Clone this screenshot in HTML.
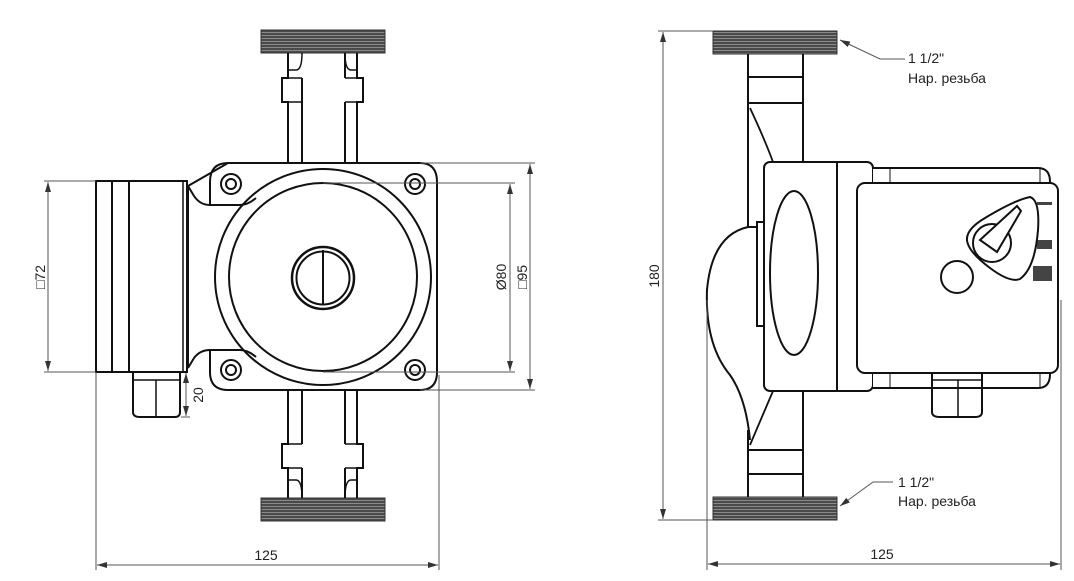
<!DOCTYPE html>
<html><head><meta charset="utf-8"><style>
html,body{margin:0;padding:0;background:#fff;}
svg{display:block;}
text{font-family:"Liberation Sans",sans-serif;fill:#222;}
</style></head><body>
<svg width="1074" height="581" viewBox="0 0 1074 581" xmlns="http://www.w3.org/2000/svg">
<defs>
<pattern id="thr" width="4" height="3" patternUnits="userSpaceOnUse">
<rect width="4" height="3" fill="#4a4a4a"/><rect y="2" width="4" height="1" fill="#8a8a8a"/>
</pattern>
<marker id="ar" markerWidth="10" markerHeight="6" refX="10" refY="3" orient="auto-start-reverse" markerUnits="userSpaceOnUse">
<path d="M0,0 L10,3 L0,6 z" fill="#333"/></marker>
</defs>
<g fill="none" stroke="#111" stroke-width="2">
<!-- LEFT VIEW -->
<rect x="261" y="30" width="124" height="23" fill="url(#thr)" stroke="#333" stroke-width="1"/>
<rect x="261" y="498" width="124" height="23" fill="url(#thr)" stroke="#333" stroke-width="1"/>
<path d="M288,53 V78 H282 V102 H288 V163"/>
<path d="M302,53 Q302,70 296,70 H288" stroke-width="1.5"/>
<path d="M302,78 V102 M302,102 V163"/>
<path d="M345,53 V78 M345,102 V163"/>
<path d="M357,53 V78 H363 V102 H357 V163"/>
<path d="M345,53 Q345,70 351,70 H357" stroke-width="1.5"/>
<path d="M282,78 H302 M282,102 H302 M345,78 H363 M345,102 H363" stroke-width="1.5"/>
<path d="M288,390 V444 H282 V468 H288 V498"/>
<path d="M302,390 V444 M302,468 V498"/>
<path d="M345,390 V444 M345,468 V498"/>
<path d="M357,390 V444 H363 V468 H357 V498"/>
<path d="M282,444 H302 M282,468 H302 M345,444 H363 M345,468 H363" stroke-width="1.5"/>
<path d="M302,498 Q302,480 296,480 H288 M345,498 Q345,480 351,480 H357" stroke-width="1.5"/>
<path d="M228,163 H420 Q437,163 437,182 V372 Q437,390 420,390 H228 Q210,390 210,372 V350 Q200,350 194,358 L188,368 M188,186 L194,196 Q200,205 210,205 V182 Q210,163 228,163 Z" fill="#fff"/>
<path d="M188,186 V368" />
<path d="M210,205 H240 Q248,205 256,198" stroke-width="2"/>
<path d="M210,350 H240 Q248,350 256,357" stroke-width="2"/>
<circle cx="323" cy="277" r="108" stroke-width="2"/>
<circle cx="323" cy="277" r="94"/>
<circle cx="323" cy="278" r="31" stroke-width="2.5"/>
<circle cx="323" cy="278" r="26.5" stroke-width="2"/>
<line x1="323" y1="250" x2="323" y2="305"/>
<g stroke-width="2"><circle cx="231" cy="184" r="10" fill="#fff"/><circle cx="231" cy="184" r="5"/>
<circle cx="415" cy="184" r="10" fill="#fff"/><circle cx="415" cy="184" r="5"/>
<circle cx="231" cy="370" r="10" fill="#fff"/><circle cx="231" cy="370" r="5"/>
<circle cx="415" cy="370" r="10" fill="#fff"/><circle cx="415" cy="370" r="5"/></g>
<rect x="96" y="181" width="91" height="191" fill="#fff"/>
<line x1="112" y1="181" x2="112" y2="372"/>
<line x1="129" y1="181" x2="129" y2="372"/>
<path d="M183,181 V372" stroke-width="1.5"/>
<path d="M133,372 V412 Q133,417 140,417 H175 Q180,417 180,412 V372"/>
<path d="M133,380 H180 M156,380 V417" stroke-width="1.5"/>

<!-- RIGHT VIEW -->
<rect x="713" y="31" width="124" height="23" fill="url(#thr)" stroke="#333" stroke-width="1"/>
<rect x="713" y="497" width="124" height="23" fill="url(#thr)" stroke="#333" stroke-width="1"/>
<path d="M748,54 V230 M803,54 V162 M748,77 H803 M748,103 H803"/>
<path d="M748,497 V430 M803,497 V391 M748,450 H803 M748,474 H803"/>
<path d="M750,108 Q765,140 773,162" stroke-width="1.8"/>
<path d="M750,445 Q765,410 773,391" stroke-width="1.8"/>
<path d="M765,227 H748 Q712,235 707,290 Q705,345 730,375 Q746,398 750,440" fill="#fff"/>
<rect x="757" y="222" width="8" height="104" fill="#fff"/>
<rect x="764" y="162" width="109" height="229" rx="6" fill="#fff"/>
<line x1="837" y1="162" x2="837" y2="391"/>
<ellipse cx="794" cy="273" rx="24" ry="82"/>
<path d="M873,168 H1038 Q1050,168 1050,182 V374 Q1050,388 1038,388 H873" fill="#fff"/>
<path d="M890,168 V388 M1040,168 V388" stroke-width="1"/>
<rect x="857" y="183" width="201" height="190" rx="8" fill="#fff"/>
<g fill="#444" stroke="none"><rect x="1037" y="202" width="15" height="3"/><rect x="1037" y="240" width="15" height="9"/><rect x="1033" y="266" width="19" height="15"/></g>
<path d="M1030,197 Q1040,200 1038,230 Q1035,268 1020,279 Q1010,283 990,268 Q966,250 967,238 Q968,228 985,218 Q1015,200 1030,197 Z" fill="#fff" stroke-width="2"/>
<circle cx="992" cy="243" r="19"/>
<path d="M980,240 L1017,206 L1021,211 L997,252 Z" fill="#fff"/>
<circle cx="957" cy="277" r="16"/>
<path d="M932,373 V412 Q932,417 940,417 H975 Q982,417 982,412 V373"/>
<path d="M932,380 H982 M958,380 V417" stroke-width="1.5"/>
</g>

<g stroke="#555" stroke-width="1" fill="none">
<line x1="44" y1="181" x2="96" y2="181"/><line x1="44" y1="372" x2="96" y2="372"/>
<line x1="48" y1="182" x2="48" y2="371" marker-start="url(#ar)" marker-end="url(#ar)"/>
<line x1="181" y1="417" x2="190" y2="417"/>
<line x1="186" y1="373" x2="186" y2="416" marker-start="url(#ar)" marker-end="url(#ar)"/>
<line x1="323" y1="183" x2="515" y2="183"/><line x1="323" y1="372" x2="515" y2="372"/>
<line x1="510" y1="184" x2="510" y2="371" marker-start="url(#ar)" marker-end="url(#ar)"/>
<line x1="420" y1="163" x2="535" y2="163"/><line x1="420" y1="390" x2="535" y2="390"/>
<line x1="530" y1="164" x2="530" y2="389" marker-start="url(#ar)" marker-end="url(#ar)"/>
<line x1="96" y1="372" x2="96" y2="570"/><line x1="439" y1="375" x2="439" y2="570"/>
<line x1="97" y1="565" x2="438" y2="565" marker-start="url(#ar)" marker-end="url(#ar)"/>
<line x1="658" y1="31" x2="713" y2="31"/><line x1="658" y1="520" x2="713" y2="520"/>
<line x1="663" y1="32" x2="663" y2="519" marker-start="url(#ar)" marker-end="url(#ar)"/>
<line x1="707" y1="300" x2="707" y2="570"/><line x1="1061" y1="300" x2="1061" y2="570"/>
<line x1="708" y1="564" x2="1060" y2="564" marker-start="url(#ar)" marker-end="url(#ar)"/>
<polyline points="905,59 880,59 840,40" marker-end="url(#ar)"/>
<polyline points="893,482 873,482 840,506" marker-end="url(#ar)"/>
</g>
<g font-size="14">
<text x="266" y="560" text-anchor="middle">125</text>
<text x="882" y="559" text-anchor="middle">125</text>
<text transform="translate(45,277) rotate(-90)" text-anchor="middle">□72</text>
<text transform="translate(203,395) rotate(-90)" text-anchor="middle">20</text>
<text transform="translate(506,277) rotate(-90)" text-anchor="middle">Ø80</text>
<text transform="translate(527,277) rotate(-90)" text-anchor="middle">□95</text>
<text transform="translate(659,276) rotate(-90)" text-anchor="middle">180</text>
<text x="908" y="63">1 1/2"</text>
<text x="908" y="83">Нар. резьба</text>
<text x="898" y="487">1 1/2"</text>
<text x="898" y="506">Нар. резьба</text>
</g>
</svg>
</body></html>
